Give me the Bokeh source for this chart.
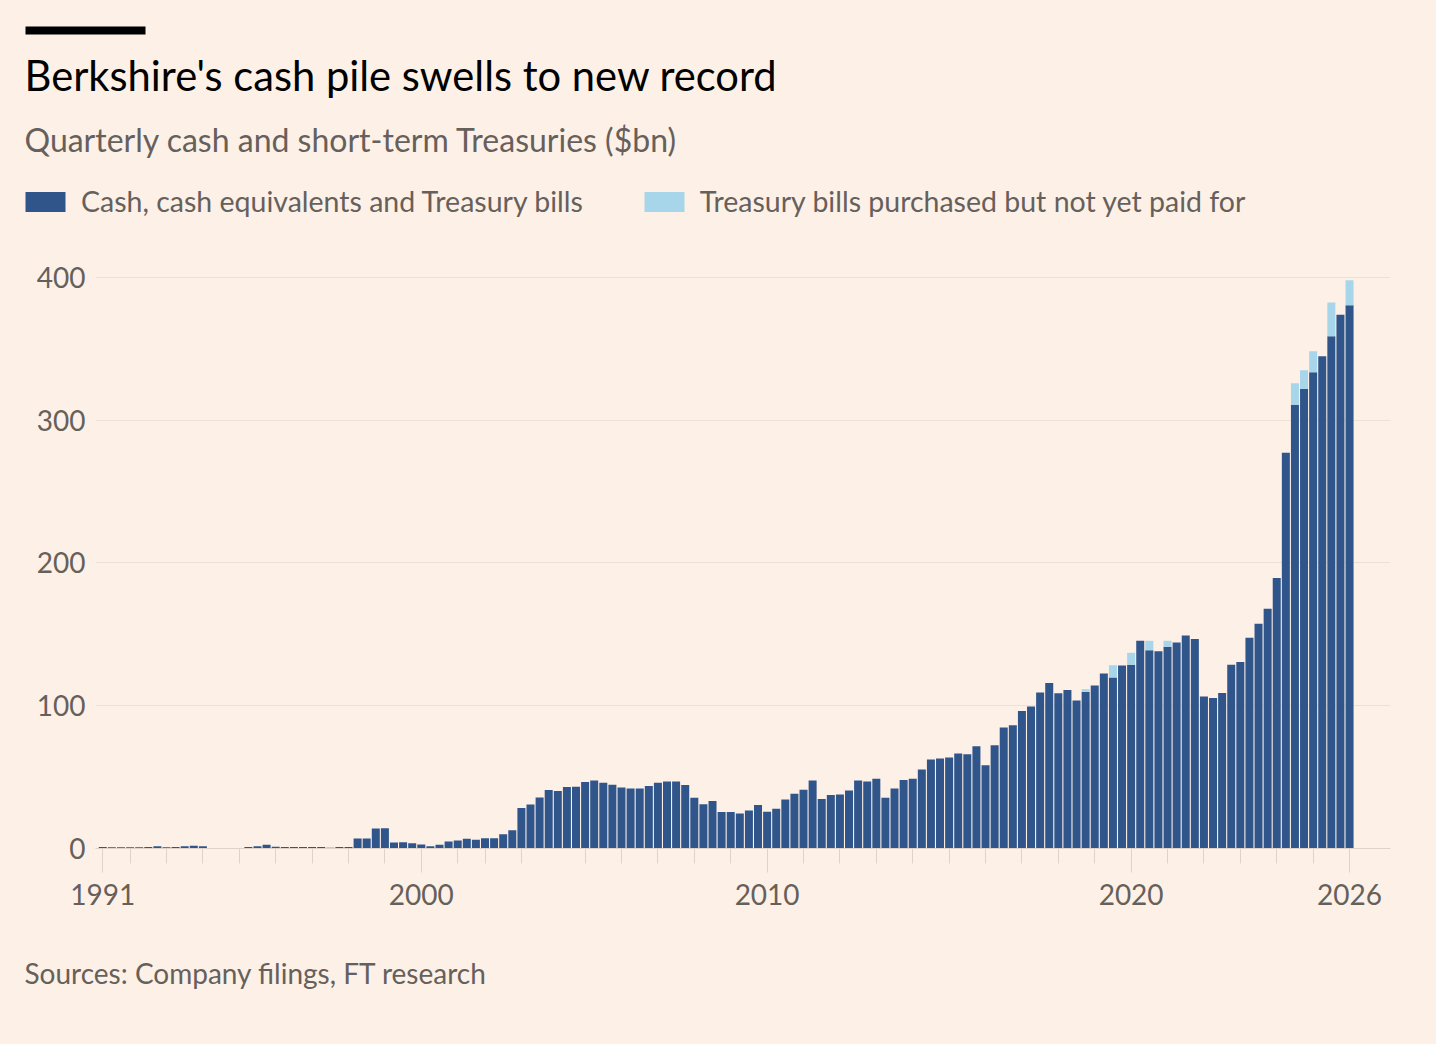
from bokeh.plotting import figure
from bokeh.layouts import column
from bokeh.models import ColumnDataSource, Range1d, FixedTicker, Legend, LegendItem
from bokeh.core.properties import value
from bokeh.embed import file_html
from bokeh.resources import INLINE

# ---------------- data ----------------
missing_quarters = ["2001Q4", "2004Q1"]
quarters = [f"{y}Q{q}" for y in range(1991, 2027) for q in range(1, 5)
            if not (y == 1991 and q == 1) and not (y == 2026 and q > 1)]
quarters = [q for q in quarters if q not in missing_quarters]

# Cash, cash equivalents and Treasury bills ($bn)
cash = [
    1.1, 0.9, 0.9,                  # 1991
    0.9, 0.9, 1.1, 1.6,             # 1992
    0.9, 1.1, 1.6, 2.0,             # 1993
    1.5, 0.3, 0.3, 0.3,             # 1994
    0.3, 1.0, 1.5, 2.6,             # 1995
    1.3, 1.0, 1.0, 1.0,             # 1996
    1.0, 1.0, 0.6, 1.0,             # 1997
    1.0, 7.0, 7.0, 14.0,            # 1998
    14.2, 4.2, 4.4, 3.7,            # 1999
    2.8, 1.6, 2.6, 4.9,             # 2000
    5.6, 6.8, 6.1,                  # 2001
    7.2, 7.2, 10.0, 12.8,           # 2002
    28.3, 30.8, 35.7, 40.9,         # 2003
    40.2, 43.0, 43.2,               # 2004
    46.5, 47.6, 46.0, 44.6,         # 2005
    42.7, 42.0, 42.0, 43.7,         # 2006
    46.0, 46.9, 46.9, 44.4,         # 2007
    35.5, 31.0, 33.2, 25.5,         # 2008
    25.5, 24.5, 26.6, 30.4,         # 2009
    25.7, 27.8, 34.3, 38.3,         # 2010
    41.1, 47.6, 34.6, 37.4,         # 2011
    37.8, 40.6, 47.6, 46.9,         # 2012
    48.8, 35.6, 42.0, 47.9,         # 2013
    48.8, 55.3, 62.3, 63.0,         # 2014
    63.7, 66.5, 66.1, 71.7,         # 2015
    58.4, 72.4, 84.8, 86.4,         # 2016
    96.4, 99.5, 109.3, 116.0,       # 2017
    108.8, 111.1, 103.7, 109.7,     # 2018
    114.2, 122.6, 119.8, 128.2,     # 2019
    128.7, 145.5, 138.9, 138.2,     # 2020
    141.3, 144.3, 149.2, 146.8,     # 2021
    106.5, 105.5, 109.0, 128.8,     # 2022
    130.7, 147.6, 157.5, 168.0,     # 2023
    189.5, 277.2, 310.8, 321.8,     # 2024
    333.6, 344.9, 358.8, 373.9,     # 2025
    380.6,                          # 2026
]
# Treasury bills purchased but not yet paid for ($bn)
unpaid_by_quarter = {
    "2018Q4": 1.9, "2019Q3": 8.6, "2020Q1": 8.4, "2020Q3": 6.6,
    "2021Q1": 4.2, "2024Q3": 15.2, "2024Q4": 13.2, "2025Q1": 14.8,
    "2025Q3": 23.6, "2026Q1": 17.4,
}
unpaid = [unpaid_by_quarter.get(q, 0.0) for q in quarters]

assert len(cash) == len(quarters), (len(cash), len(quarters))

major_years = {"1991Q2": "1991", "2000Q1": "2000", "2010Q1": "2010",
               "2020Q1": "2020", "2026Q1": "2026"}
y_ticks = [0, 100, 200, 300, 400]

title_text = "Berkshire's cash pile swells to new record"
subtitle_text = "Quarterly cash and short-term Treasuries ($bn)"
legend_labels = ["Cash, cash equivalents and Treasury bills",
                 "Treasury bills purchased but not yet paid for"]
source_text = "Sources: Company filings, FT research"

# ---------------- styling ----------------
BG = "#fdf1e7"
DARK = "#2f558b"
LIGHT = "#a7d5ea"
GREY = "#66605c"
GRID = "#ebe1d7"
TICK = "#ddd3ca"
FONT = "Lato"
W = 1436


def no_align(fig):
    try:
        fig.frame_align = False
    except Exception:
        pass


# ---------------- header ----------------
H1 = 250
head = figure(width=W, height=H1, output_backend="svg", toolbar_location=None,
              x_range=Range1d(0, W), y_range=Range1d(H1, 0),
              x_axis_location=None, y_axis_location=None, min_border=0)
no_align(head)
head.background_fill_color = BG
head.border_fill_color = BG
head.outline_line_color = None
head.grid.visible = False

head.quad(left=[25], right=[145], top=[26], bottom=[34], fill_color="black",
          line_color=None)
head.text(x=[24], y=[74], text=[title_text], text_font=value(FONT),
          text_font_size="41.7px", text_color="#000000",
          text_baseline="middle", text_align="left")
head.text(x=[24], y=[139], text=[subtitle_text], text_font=value(FONT),
          text_font_size="32px", text_color=GREY,
          text_baseline="middle", text_align="left")

# off-canvas swatch renderers used only by the legend
d1 = head.quad(left=[-50], right=[-40], top=[-50], bottom=[-40],
               fill_color=DARK, line_color=None)
d2 = head.quad(left=[-50], right=[-40], top=[-50], bottom=[-40],
               fill_color=LIGHT, line_color=None)
legend = Legend(items=[LegendItem(label=legend_labels[0], renderers=[d1]),
                       LegendItem(label=legend_labels[1], renderers=[d2])],
                location=(20, H1 - 218), orientation="horizontal",
                glyph_width=50, glyph_height=25, label_standoff=11, spacing=56,
                padding=0, margin=0, border_line_alpha=0, background_fill_alpha=0,
                label_text_font=FONT, label_text_font_size="28.5px",
                label_text_color=GREY)
head.add_layout(legend, "center")

# ---------------- main chart ----------------
TOP, BOTTOM = 250, 930       # page rows covered by this figure
FRAME_T, FRAME_B = 262, 848  # frame edges in page pixels
FRAME_L, FRAME_R = 95, 1390

xs = list(range(len(quarters)))
total = [c + u for c, u in zip(cash, unpaid)]
src = ColumnDataSource(dict(x=xs, q=quarters, cash=cash, unpaid=unpaid, total=total))

p = figure(width=W, height=BOTTOM - TOP, output_backend="svg", toolbar_location=None,
           x_range=Range1d(-0.8, 141.5), y_range=Range1d(0, 410.5),
           min_border_left=FRAME_L, min_border_right=W - FRAME_R,
           min_border_top=FRAME_T - TOP, min_border_bottom=BOTTOM - FRAME_B)
no_align(p)
p.background_fill_color = BG
p.border_fill_color = BG
p.outline_line_color = None

p.vbar(x="x", top="cash", bottom=0, width=0.88, source=src,
       fill_color=DARK, line_color=None)
p.vbar(x="x", top="total", bottom="cash", width=0.88, source=src,
       fill_color=LIGHT, line_color=None)

major_idx = [quarters.index(k) for k in major_years]
minor_idx = [i for i, q in enumerate(quarters) if q.endswith("Q1")]
xa = p.xaxis[0]
xa.ticker = FixedTicker(ticks=major_idx, minor_ticks=minor_idx)
xa.major_label_overrides = {quarters.index(k): v for k, v in major_years.items()}
xa.axis_line_color = TICK
xa.major_tick_line_color = TICK
xa.minor_tick_line_color = TICK
xa.major_tick_out = 24
xa.major_tick_in = 0
xa.minor_tick_out = 15
xa.minor_tick_in = 0
xa.major_label_standoff = 11
xa.major_label_text_font = FONT
xa.major_label_text_font_size = "28px"
xa.major_label_text_color = GREY

ya = p.yaxis[0]
ya.ticker = FixedTicker(ticks=y_ticks)
ya.axis_line_color = None
ya.major_tick_line_color = None
ya.minor_tick_line_color = None
ya.major_tick_out = 0
ya.major_tick_in = 0
ya.major_label_standoff = 10
ya.major_label_text_font = FONT
ya.major_label_text_font_size = "28px"
ya.major_label_text_color = GREY

p.xgrid.grid_line_color = None
p.ygrid.grid_line_color = GRID
p.ygrid.grid_line_width = 1

# ---------------- footer ----------------
H3 = 1044 - BOTTOM
foot = figure(width=W, height=H3, output_backend="svg", toolbar_location=None,
              x_range=Range1d(0, W), y_range=Range1d(1044, BOTTOM),
              x_axis_location=None, y_axis_location=None, min_border=0)
no_align(foot)
foot.background_fill_color = BG
foot.border_fill_color = BG
foot.outline_line_color = None
foot.grid.visible = False
foot.text(x=[24], y=[972], text=[source_text], text_font=value(FONT),
          text_font_size="28px", text_color=GREY,
          text_baseline="middle", text_align="left")

layout = column(head, p, foot, spacing=0)
try:
    layout.styles = {"background-color": BG}
except Exception:
    pass
open("out.html", "w").write(file_html(layout, INLINE))
